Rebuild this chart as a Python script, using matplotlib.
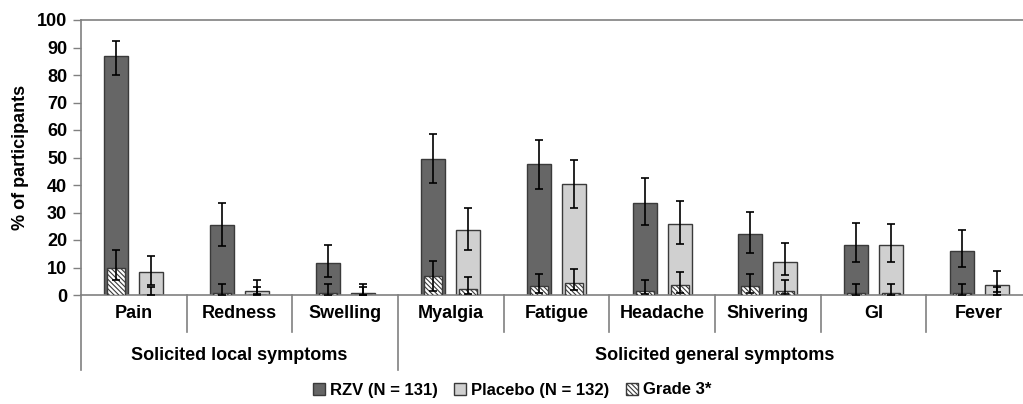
import matplotlib
matplotlib.use("Agg")
import matplotlib.pyplot as plt
import numpy as np
from matplotlib.patches import Patch

plt.rcParams['font.family'] = ['Liberation Sans Narrow', 'Liberation Sans', 'DejaVu Sans']
plt.rcParams['font.weight'] = 'bold'
plt.rcParams['hatch.linewidth'] = 0.8

categories = ['Pain', 'Redness', 'Swelling', 'Myalgia', 'Fatigue',
              'Headache', 'Shivering', 'GI', 'Fever']
groups = ['Solicited local symptoms', 'Solicited general symptoms']
group_sizes = [3, 6]

# overall %, with 95% CI
rzv = [87.0, 25.3, 11.5, 49.6, 47.5, 33.6, 22.2, 18.3, 16.0]
rzv_lo = [80.0, 18.0, 6.7, 40.9, 38.5, 25.6, 15.4, 12.0, 10.3]
rzv_hi = [92.4, 33.6, 18.2, 58.5, 56.3, 42.4, 30.2, 26.1, 23.5]
pla = [8.4, 1.5, 0.8, 23.5, 40.2, 25.8, 12.0, 18.2, 3.8]
pla_lo = [3.5, 0.2, 0.0, 16.5, 31.7, 18.6, 7.1, 12.0, 1.1]
pla_hi = [14.3, 5.6, 4.1, 31.7, 49.0, 34.1, 18.9, 25.9, 8.6]

# grade 3 %, with 95% CI
rzv_g3 = [10.0, 0.8, 0.8, 6.9, 3.1, 1.5, 3.1, 0.8, 0.8]
rzv_g3_lo = [5.3, 0.0, 0.0, 1.4, 0.6, 0.2, 0.6, 0.0, 0.0]
rzv_g3_hi = [16.5, 4.0, 4.0, 12.5, 7.7, 5.5, 7.7, 4.0, 4.0]
pla_g3 = [0.0, 0.0, 0.0, 2.3, 4.5, 3.8, 1.5, 0.8, 0.0]
pla_g3_lo = [0.0, 0.0, 0.0, 0.3, 1.7, 0.8, 0.2, 0.0, 0.0]
pla_g3_hi = [2.8, 2.9, 2.8, 6.4, 9.6, 8.5, 5.5, 4.0, 2.8]

legend_labels = ['RZV (N = 131)', 'Placebo (N = 132)', 'Grade 3*']

dark = '#666666'
light = '#d0d0d0'
edge = '#3a3a3a'
spine = '#808080'
hatch = '\\' * 7

fig = plt.figure(figsize=(10.23, 4.04), dpi=100)
ax = fig.add_axes([81 / 1023, 109 / 404, 951 / 1023, 275 / 404])

x = np.arange(len(categories)) + 0.5
off = 0.166
w = 0.227
wg = 0.17


def draw(xs, vals, lo, hi, color, g3, g3lo, g3hi):
    ax.bar(xs, vals, w, color=color, edgecolor=edge, linewidth=1, zorder=2)
    ax.bar(xs, g3, wg, color='white', edgecolor=edge, hatch=hatch,
           linewidth=1, zorder=3)
    v = np.array(vals)
    ax.errorbar(xs, v, yerr=[v - np.array(lo), np.array(hi) - v], fmt='none',
                ecolor='black', elinewidth=1.2, capsize=3, capthick=1.2, zorder=4)
    g = np.array(g3)
    ax.errorbar(xs, g, yerr=[g - np.array(g3lo), np.array(g3hi) - g], fmt='none',
                ecolor='black', elinewidth=1.2, capsize=3, capthick=1.2, zorder=4)


draw(x - off, rzv, rzv_lo, rzv_hi, dark, rzv_g3, rzv_g3_lo, rzv_g3_hi)
draw(x + off, pla, pla_lo, pla_hi, light, pla_g3, pla_g3_lo, pla_g3_hi)

ax.set_xlim(0, len(categories))
ax.set_ylim(0, 100)
ax.set_yticks(range(0, 101, 10))
ax.tick_params(axis='y', direction='out', length=6, width=1, color=spine,
               labelsize=13, pad=4)
for t in ax.get_yticklabels():
    t.set_fontweight('bold')
ax.set_xticks([])
for s in ax.spines.values():
    s.set_color(spine)
    s.set_linewidth(1.2)
ax.set_ylabel('% of participants', fontsize=13, fontweight='bold', labelpad=6)

trans = ax.get_xaxis_transform()
# category labels and dividers
for i, c in enumerate(categories):
    ax.text(x[i], -0.068, c, transform=trans, ha='center', va='center',
            fontsize=13, fontweight='bold')
bounds = np.cumsum([0] + group_sizes)
for i in range(1, len(categories)):
    depth = -0.273 if i in bounds else -0.135
    ax.plot([i, i], [0, depth], transform=trans, color=spine, lw=1.2, clip_on=False)
ax.plot([0, 0], [0, -0.273], transform=trans, color=spine, lw=1.2, clip_on=False)
for j, gname in enumerate(groups):
    ax.text((bounds[j] + bounds[j + 1]) / 2, -0.22, gname, transform=trans,
            ha='center', va='center', fontsize=13, fontweight='bold')

handles = [Patch(facecolor=dark, edgecolor=edge),
           Patch(facecolor=light, edgecolor=edge),
           Patch(facecolor='white', edgecolor=edge, hatch=hatch)]
fig.legend(handles, legend_labels, loc='center', bbox_to_anchor=(512 / 1023, 1 - 390 / 404),
           ncol=3, frameon=False, handlelength=0.7, handleheight=0.7,
           handletextpad=0.3, columnspacing=1.0, prop={'size': 12, 'weight': 'bold'})

fig.savefig('out.png', dpi=100)
